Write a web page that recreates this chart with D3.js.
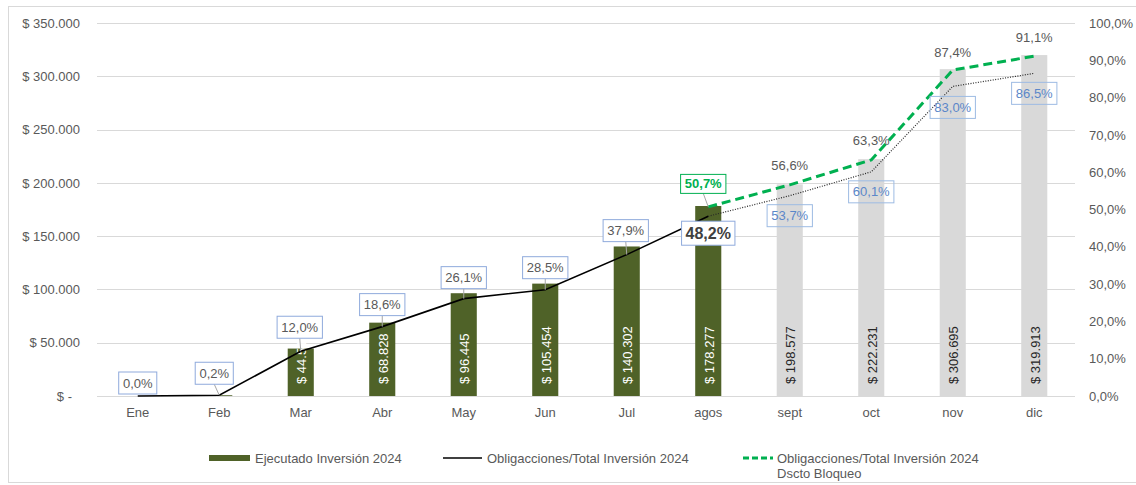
<!DOCTYPE html>
<html>
<head>
    <meta charset="utf-8">
    <script type="text/javascript" src="https://cdn.jsdelivr.net/npm/d3@7"></script>
    <style>
        body { margin: 0; background: #fff; }
        text { font-family: "Liberation Sans", Arial, sans-serif; }
    </style>
</head>

<body>
    <div id="chart"></div>
    <script type="text/javascript">

    // data
    var months = ["Ene", "Feb", "Mar", "Abr", "May", "Jun", "Jul", "agos", "sept", "oct", "nov", "dic"];
    var ejecutado = [0, 702, 44512, 68828, 96445, 105454, 140302, 178277, 198577, 222231, 306695, 319913];
    var obligaciones = [0.000, 0.002, 0.120, 0.186, 0.261, 0.285, 0.379, 0.482, 0.537, 0.601, 0.830, 0.865];
    var dsctoBloqueo = [null, null, null, null, null, null, null, 0.507, 0.566, 0.633, 0.874, 0.911];
    var lastActual = 7; // agos: months after this are projected
    var leftTicks = [0, 50000, 100000, 150000, 200000, 250000, 300000, 350000];
    var rightTicks = [0, 0.1, 0.2, 0.3, 0.4, 0.5, 0.6, 0.7, 0.8, 0.9, 1.0];
    var seriesNames = ["Ejecutado Inversión 2024", "Obligacciones/Total Inversión 2024", "Obligacciones/Total Inversión 2024|Dscto Bloqueo"];

    // label placement (offset of label centre from its point)
    var oblOffset = [[0,-13],[-5,-22],[-1,-24],[0,-22],[0,-21],[0,-22],[-1,-24],[0,17],[0,20],[0,20],[0,21],[0,20]];
    var dsctoOffset = [null,null,null,null,null,null,null,[-5,-23],[0,-19],[0,-19],[0,-18],[0,-19]];

    var W = 1136, H = 485;
    var plotL = 97, plotR = 1075, plotT = 23, plotB = 396;

    var loc = d3.formatLocale({decimal: ",", thousands: ".", grouping: [3], currency: ["$ ", ""]});
    var fmtNum = loc.format(",.0f");
    var fmtPct = loc.format(".1%");

    var svg = d3.select("#chart").append("svg")
        .attr("width", W)
        .attr("height", H);

    svg.append("rect")
        .attr("x", 8.5).attr("y", 6.5)
        .attr("width", 1140).attr("height", 476)
        .style("fill", "white")
        .style("stroke", "#d9d9d9");

    var x = d3.scaleBand().domain(months).range([plotL, plotR]).paddingInner(0.68).paddingOuter(0.34);
    var y = d3.scaleLinear().domain([0, 350000]).range([plotB, plotT]);
    var yp = d3.scaleLinear().domain([0, 1]).range([plotB, plotT]);
    var cx = function(m){ return x(m) + x.bandwidth()/2; };

    // gridlines
    svg.selectAll("line.grid")
        .data(leftTicks)
        .enter().append("line")
        .attr("class", "grid")
        .attr("x1", plotL).attr("x2", plotR)
        .attr("y1", function(d){ return Math.round(y(d)) + 0.5; })
        .attr("y2", function(d){ return Math.round(y(d)) + 0.5; })
        .style("stroke", "#d9d9d9");

    // axes
    var yAxis = svg.append("g")
        .attr("transform", "translate(" + plotL + ",0)")
        .call(d3.axisLeft(y).tickValues(leftTicks).tickSize(0).tickPadding(17)
            .tickFormat(function(d){ return d === 0 ? "$ -" : "$ " + fmtNum(d); }));
    var yAxisR = svg.append("g")
        .attr("transform", "translate(" + plotR + ",0)")
        .call(d3.axisRight(yp).tickValues(rightTicks).tickSize(0).tickPadding(14).tickFormat(fmtPct));
    var xAxis = svg.append("g")
        .attr("transform", "translate(0," + plotB + ")")
        .call(d3.axisBottom(x).tickSize(0).tickPadding(12));

    [yAxis, yAxisR, xAxis].forEach(function(g){
        g.select(".domain").remove();
        g.selectAll("text").style("font-size", "13px").style("fill", "#595959")
            .style("font-family", "'Liberation Sans', Arial, sans-serif");
    });
    yAxis.selectAll("text").filter(function(d){ return d === 0; }).attr("dx", "-8");

    // bars
    svg.selectAll("rect.bar")
        .data(ejecutado)
        .enter().append("rect")
        .attr("class", "bar")
        .attr("x", function(d, i){ return x(months[i]); })
        .attr("width", x.bandwidth())
        .attr("y", function(d){ return y(d); })
        .attr("height", function(d){ return plotB - y(d); })
        .style("fill", function(d, i){ return i <= lastActual ? "#4f6228" : "#d9d9d9"; });

    svg.selectAll("text.barlabel")
        .data(ejecutado.filter(function(d){ return plotB - y(d) > 20; }))
        .enter().append("text")
        .attr("class", "barlabel")
        .attr("transform", function(d){
            var i = ejecutado.indexOf(d);
            return "translate(" + (cx(months[i]) + 1) + "," + (plotB - 12) + ") rotate(-90)";
        })
        .attr("dy", "0.35em")
        .style("font-size", "13px")
        .style("fill", function(d){ return ejecutado.indexOf(d) <= lastActual ? "white" : "#262626"; })
        .text(function(d){ return "$ " + fmtNum(d); });

    // lines
    var line = d3.line()
        .defined(function(d){ return d != null; })
        .x(function(d, i){ return cx(months[i]); })
        .y(function(d){ return yp(d); });

    var solidPart = obligaciones.map(function(d, i){ return i <= lastActual ? d : null; });
    var dottedPart = obligaciones.map(function(d, i){ return i >= lastActual ? d : null; });

    svg.append("path").attr("d", line(dottedPart))
        .style("fill", "none").style("stroke", "#262626").style("stroke-width", 1.2)
        .style("stroke-dasharray", "1,1.5");
    svg.append("path").attr("d", line(solidPart))
        .style("fill", "none").style("stroke", "black").style("stroke-width", 1.6);
    svg.append("path").attr("d", line(dsctoBloqueo))
        .style("fill", "none").style("stroke", "#00b050").style("stroke-width", 3)
        .style("stroke-dasharray", "9,5");

    // data labels
    function boxLabel(i, value, off, opt) {
        var px = cx(months[i]), py = yp(value);
        var lx = px + off[0], ly = py + off[1];
        var g = svg.append("g");
        var t = g.append("text")
            .attr("x", lx).attr("y", ly).attr("dy", "0.35em")
            .attr("text-anchor", "middle")
            .style("font-size", opt.size + "px")
            .style("font-weight", opt.bold ? "bold" : "normal")
            .style("fill", opt.color)
            .text(fmtPct(value));
        if (opt.box) {
            var w = t.node().getBBox().width + 8, h = opt.h;
            if (off[1] < 0 && -off[1] - h/2 > 3) {
                g.insert("line", "text")
                    .attr("x1", lx).attr("y1", ly + h/2)
                    .attr("x2", px).attr("y2", py)
                    .style("stroke", "#a6a6a6");
            }
            g.insert("rect", "text")
                .attr("x", lx - w/2).attr("y", ly - h/2)
                .attr("width", w).attr("height", h)
                .style("fill", opt.fill)
                .style("stroke", opt.stroke);
        }
    }

    obligaciones.forEach(function(d, i){
        if (i < lastActual) {
            boxLabel(i, d, oblOffset[i], {size: 13, color: "#595959", box: true, h: 22, fill: "white", stroke: "#8faadc"});
        } else if (i === lastActual) {
            boxLabel(i, d, oblOffset[i], {size: 16, bold: true, color: "#404040", box: true, h: 24, fill: "white", stroke: "#8faadc"});
        } else {
            boxLabel(i, d, oblOffset[i], {size: 13, color: "#5b87c9", box: true, h: 22, fill: "none", stroke: "#9dbbe3"});
        }
    });
    dsctoBloqueo.forEach(function(d, i){
        if (d == null) return;
        if (i === lastActual) {
            boxLabel(i, d, dsctoOffset[i], {size: 13, bold: true, color: "#00b050", box: true, h: 19, fill: "white", stroke: "#00b050"});
        } else {
            boxLabel(i, d, dsctoOffset[i], {size: 13, color: "#595959"});
        }
    });

    // legend
    var legendX = [209, 443, 743], legendY = 458;
    var legend = svg.selectAll("g.legend")
        .data(seriesNames)
        .enter().append("g")
        .attr("class", "legend")
        .attr("transform", function(d, i){ return "translate(" + legendX[i] + "," + legendY + ")"; });

    legend.each(function(d, i){
        var g = d3.select(this);
        if (i === 0) {
            g.append("rect").attr("x", 0).attr("y", -3).attr("width", 41).attr("height", 6).style("fill", "#4f6228");
        } else if (i === 1) {
            g.append("line").attr("x1", 0).attr("x2", 39).style("stroke", "black").style("stroke-width", 1.6);
        } else {
            g.append("line").attr("x1", 0).attr("x2", 30).style("stroke", "#00b050").style("stroke-width", 3)
                .style("stroke-dasharray", "6,3");
        }
        var tx = i === 0 ? 46 : (i === 1 ? 44 : 34);
        var t = g.append("text").attr("x", tx).attr("y", 0)
            .style("font-size", "13px").style("fill", "#595959");
        d.split("|").forEach(function(part, k){
            t.append("tspan").attr("x", tx).attr("dy", k === 0 ? "0.35em" : "15px").text(part);
        });
    });

    </script>
</body>
</html>
